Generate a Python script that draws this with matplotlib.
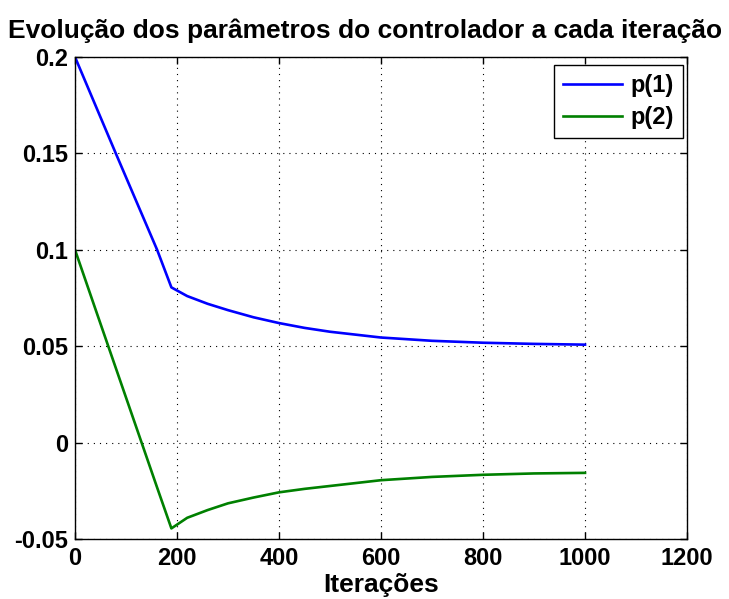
import numpy as np
import matplotlib.pyplot as plt

plt.rcParams['font.family'] = ['Liberation Sans', 'DejaVu Sans']
plt.rcParams['font.weight'] = 'bold'

# values
iters = [0, 40, 80, 120, 161, 189, 220, 260, 300, 350, 400, 450, 500, 600, 700, 800, 900, 1000]
p1 = [0.2, 0.175, 0.15, 0.1253, 0.1, 0.0805, 0.076, 0.072, 0.0687, 0.065, 0.062, 0.0595, 0.0575,
      0.0545, 0.0528, 0.0518, 0.0512, 0.0508]
p2 = [0.1, 0.0693, 0.0387, 0.0081, -0.0233, -0.0445, -0.039, -0.035, -0.0315, -0.0285, -0.0258,
      -0.024, -0.0225, -0.0195, -0.0178, -0.0167, -0.016, -0.0157]

fig = plt.figure(figsize=(7.29, 5.99), dpi=100)
ax = fig.add_axes([75 / 729, 1 - 539 / 599, 612 / 729, 482 / 599])

ax.plot(iters, p1, color='#0000ff', lw=1.9, label='p(1)')
ax.plot(iters, p2, color='#008000', lw=1.9, label='p(2)')

ax.set_xlim(0, 1200)
ax.set_ylim(-0.05, 0.2)
ax.set_xticks([0, 200, 400, 600, 800, 1000, 1200])
ax.set_yticks([-0.05, 0, 0.05, 0.1, 0.15, 0.2])
ax.set_yticklabels(['-0.05', '0', '0.05', '0.1', '0.15', '0.2'])
ax.grid(True, color='black', linestyle=(0, (1, 4.5)), linewidth=0.8)
ax.tick_params(direction='in', labelsize=17, length=5, width=1, top=True, right=True)
ax.tick_params(axis='y', pad=5)
ax.tick_params(axis='x', pad=6)
for s in ax.spines.values():
    s.set_linewidth(1)

ax.set_xlabel('Iterações', fontsize=19, fontweight='bold', labelpad=2)
# title sits centred on the figure rather than on the axes
ax.set_title('Evolução dos parâmetros do controlador a cada iteração', fontsize=19,
             fontweight='bold', pad=14, x=(365 - 75) / 612)

leg = ax.legend(loc='upper right', bbox_to_anchor=(0.9935, 0.9834), borderaxespad=0,
                fontsize=17, fancybox=False, edgecolor='black', framealpha=1,
                borderpad=0.38, handlelength=2.5, handletextpad=0.36, labelspacing=0.4)
leg.get_frame().set_linewidth(1)

fig.savefig('out.png', dpi=100)
